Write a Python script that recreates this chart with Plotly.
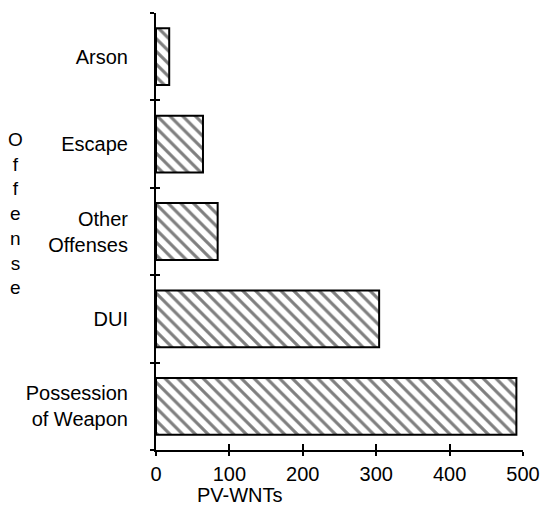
import plotly.graph_objects as go

categories = ["Possession<br>of Weapon", "DUI", "Other<br>Offenses", "Escape", "Arson"]
values = [491, 304, 84, 64, 18]
x_ticks = [0, 100, 200, 300, 400, 500]
x_label = "PV-WNTs"
y_label = "Offense"

FONT = "Liberation Sans, Arial, Helvetica, sans-serif"
FS = 20

fig = go.Figure()
fig.add_trace(go.Bar(
    y=categories, x=values, orientation="h",
    marker=dict(color="white",
                line=dict(color="black", width=2),
                pattern=dict(shape="\\", size=9, solidity=0.35,
                             fgcolor="black", bgcolor="white")),
    width=0.65, showlegend=False, hoverinfo="skip",
))
# invisible helper trace so the overlay axes (inner half of crossing ticks) know the categories
fig.add_trace(go.Scatter(
    y=categories, x=values, xaxis="x2", yaxis="y2", mode="markers",
    marker=dict(opacity=0), showlegend=False, hoverinfo="skip",
))

fig.update_layout(
    width=544, height=505,
    margin=dict(l=156, r=21, t=13, b=55, autoexpand=False),
    paper_bgcolor="white", plot_bgcolor="white",
    font=dict(family=FONT, size=FS, color="black"),
    xaxis=dict(range=[0, 500], tickvals=x_ticks, ticks="outside", ticklen=4,
               tickwidth=1.5, tickcolor="black", showline=True, linecolor="black",
               linewidth=2, showgrid=False, zeroline=False, ticklabelstandoff=1,
               tickfont=dict(size=FS)),
    xaxis2=dict(range=[0, 500], tickvals=x_ticks, ticks="inside", ticklen=6,
                tickwidth=1.5, tickcolor="black", overlaying="x", side="bottom",
                showticklabels=False, showline=False, showgrid=False, zeroline=False),
    yaxis=dict(type="category", categoryorder="array", categoryarray=categories,
               range=[-0.5, 4.5], tickson="boundaries", ticks="outside", ticklen=4,
               tickwidth=1.5, tickcolor="black", showline=True, linecolor="black",
               linewidth=2, showgrid=False, zeroline=False, ticklabelstandoff=22,
               tickfont=dict(size=FS)),
    yaxis2=dict(type="category", categoryorder="array", categoryarray=categories,
                range=[-0.5, 4.5], tickson="boundaries", ticks="inside", ticklen=4,
                tickwidth=1.5, tickcolor="black", overlaying="y", side="left",
                showticklabels=False, showline=False, showgrid=False, zeroline=False),
    bargap=0.35,
)

fig.add_annotation(text="<br>".join(list(y_label)), xref="paper", yref="paper",
                   x=-0.384, y=0.542, xanchor="center", yanchor="middle",
                   showarrow=False, font=dict(size=19), align="center")
fig.add_annotation(text=x_label, xref="paper", yref="paper",
                   x=0.106, y=-0.102, xanchor="left", yanchor="middle",
                   showarrow=False, font=dict(size=FS))

fig.write_html("out.html", config={"displayModeBar": False},
               post_script="document.body.style.margin='0';")
